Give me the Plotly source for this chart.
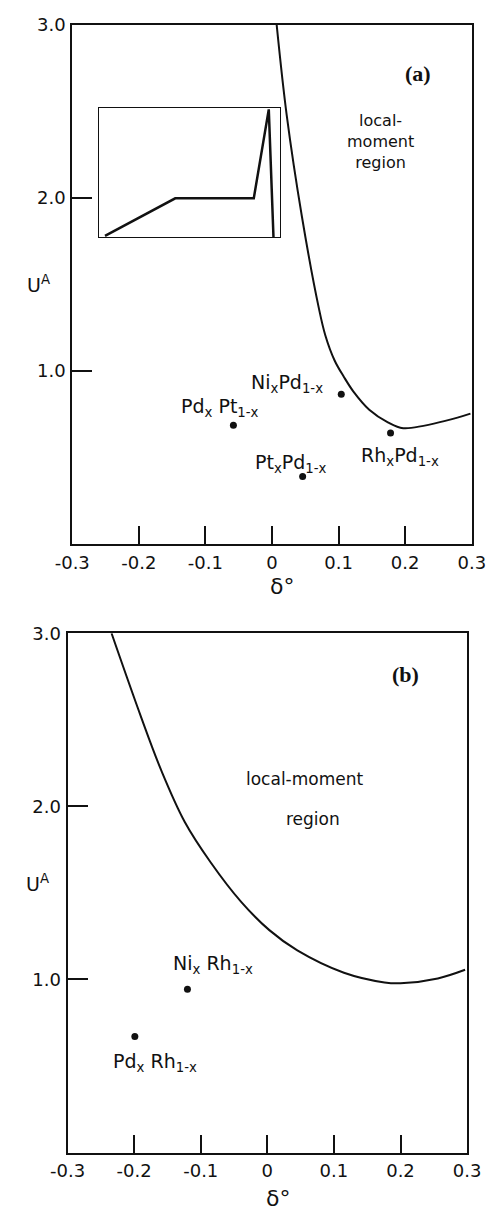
import plotly.graph_objects as go

W, H = 497, 1211

# ---------------- data ----------------
# panel (a): boundary of local-moment region
a_curve_x = [0.007, 0.022, 0.045, 0.070, 0.080, 0.094, 0.108, 0.122, 0.146, 0.174, 0.197, 0.263, 0.298]
a_curve_y = [3.00, 2.48, 1.89, 1.369, 1.207, 1.061, 0.966, 0.883, 0.777, 0.704, 0.670, 0.715, 0.754]
a_pts_name = ["Pd<sub>x</sub> Pt<sub>1-x</sub>", "Ni<sub>x</sub>Pd<sub>1-x</sub>",
              "Pt<sub>x</sub>Pd<sub>1-x</sub>", "Rh<sub>x</sub>Pd<sub>1-x</sub>"]
a_pts_x = [-0.058, 0.104, 0.046, 0.178]
a_pts_y = [0.687, 0.866, 0.39, 0.642]

# inset sketch in panel (a) (normalised units)
inset_x = [0.031, 0.42, 0.855, 0.938, 0.964]
inset_y = [0.008, 0.30, 0.30, 0.99, 0.0]

# panel (b)
b_curve_x = [-0.234, -0.190, -0.159, -0.124, -0.085, -0.039, 0.003, 0.045, 0.115, 0.176, 0.200, 0.256, 0.297]
b_curve_y = [3.00, 2.52, 2.205, 1.91, 1.676, 1.447, 1.285, 1.168, 1.039, 0.983, 0.978, 1.006, 1.056]
b_pts_name = ["Ni<sub>x</sub> Rh<sub>1-x</sub>", "Pd<sub>x</sub> Rh<sub>1-x</sub>"]
b_pts_x = [-0.12, -0.199]
b_pts_y = [0.944, 0.67]

x_ticks = [-0.3, -0.2, -0.1, 0, 0.1, 0.2, 0.3]
x_ticklabels = ["-0.3", "-0.2", "-0.1", "0", "0.1", "0.2", "0.3"]
y_ticks = [1, 2, 3]
y_ticklabels = ["1.0", "2.0", "3.0"]

# ---------------- layout helpers ----------------
def fx(p):
    return p / W

def fy(p):
    return 1 - p / H

FONT = "DejaVu Sans"
INK = "#111111"

fig = go.Figure()

curve_line = dict(color=INK, width=2, shape="spline", smoothing=1.0)
fig.add_trace(go.Scatter(x=a_curve_x, y=a_curve_y, mode="lines", line=curve_line,
                         xaxis="x", yaxis="y", showlegend=False, hoverinfo="skip"))
fig.add_trace(go.Scatter(x=a_pts_x, y=a_pts_y, mode="markers", marker=dict(color=INK, size=7),
                         xaxis="x", yaxis="y", showlegend=False))
fig.add_trace(go.Scatter(x=b_curve_x, y=b_curve_y, mode="lines", line=curve_line,
                         xaxis="x2", yaxis="y2", showlegend=False, hoverinfo="skip"))
fig.add_trace(go.Scatter(x=b_pts_x, y=b_pts_y, mode="markers", marker=dict(color=INK, size=7),
                         xaxis="x2", yaxis="y2", showlegend=False))
fig.add_trace(go.Scatter(x=inset_x, y=inset_y, mode="lines", line=dict(color=INK, width=2.5),
                         xaxis="x3", yaxis="y3", showlegend=False, hoverinfo="skip"))

tickfont = dict(family=FONT, size=18, color=INK)

def xax(domain, anchor):
    return dict(domain=domain, anchor=anchor, range=[-0.3, 0.3], tickvals=x_ticks, ticktext=x_ticklabels,
                ticks="inside", ticklen=18, tickwidth=1.5, tickcolor=INK, showline=True, linecolor=INK,
                linewidth=2, mirror=True, showgrid=False, zeroline=False, tickfont=tickfont, ticklabelstandoff=1)

def yax(domain, anchor):
    return dict(domain=domain, anchor=anchor, range=[0, 3], tickvals=y_ticks, ticktext=y_ticklabels,
                ticks="inside", ticklen=20, tickwidth=1.5, tickcolor=INK, showline=True, linecolor=INK,
                linewidth=2, mirror=True, showgrid=False, zeroline=False, tickfont=tickfont, ticklabelstandoff=1)

layout = dict(
    width=W, height=H, margin=dict(l=0, r=0, t=0, b=0),
    paper_bgcolor="white", plot_bgcolor="white",
    xaxis=xax([fx(58), fx(485)], "y"),
    yaxis=yax([fy(538), fy(14)], "x"),
    xaxis2=xax([fx(53), fx(480)], "y2"),
    yaxis2=yax([fy(1152), fy(628)], "x2"),
    xaxis3=dict(domain=[fx(87), fx(280)], anchor="y3", range=[0, 1], showline=True, linecolor=INK, linewidth=1.3,
                mirror=True, showticklabels=False, ticks="", showgrid=False, zeroline=False),
    yaxis3=dict(domain=[fy(228), fy(98)], anchor="x3", range=[0, 1], showline=True, linecolor=INK, linewidth=1.3,
                mirror=True, showticklabels=False, ticks="", showgrid=False, zeroline=False),
)
fig.update_layout(**layout)

lab_font = dict(family=FONT, size=19, color=INK)
ann = []
# point labels (offsets in pixels relative to the dot)
a_offsets = [(-54, 18), (-92, 11), (-50, 13), (-32, -24)]
for name, x, y, (dx, dy) in zip(a_pts_name, a_pts_x, a_pts_y, a_offsets):
    ann.append(dict(x=x, y=y, xref="x", yref="y", text=name, showarrow=False, xanchor="left", yanchor="middle",
                    xshift=dx, yshift=dy, font=lab_font))
b_offsets = [(-16, 25), (-24, -26)]
for name, x, y, (dx, dy) in zip(b_pts_name, b_pts_x, b_pts_y, b_offsets):
    ann.append(dict(x=x, y=y, xref="x2", yref="y2", text=name, showarrow=False, xanchor="left", yanchor="middle",
                    xshift=dx, yshift=dy, font=lab_font))

def paper_text(text, x, y, size, family=FONT, xanchor="center", bold=False):
    t = f"<b>{text}</b>" if bold else text
    return dict(x=fx(x), y=fy(y), xref="paper", yref="paper", text=t, showarrow=False, xanchor=xanchor,
                yanchor="middle", font=dict(family=family, size=size, color=INK))

ann += [
    paper_text("(a)", 427, 63, 22, family="Liberation Serif", bold=True),
    paper_text("(b)", 414, 670, 22, family="Liberation Serif", bold=True),
    paper_text("local-<br>moment<br>region", 387, 132, 16),
    paper_text("local-moment", 307, 775, 17),
    paper_text("region", 315, 815, 17),
    paper_text("δ°", 282, 581, 22),
    paper_text("δ°", 278, 1198, 22),
    paper_text("U<sup>A</sup>", 8, 275, 19, xanchor="left"),
    paper_text("U<sup>A</sup>", 6, 880, 19, xanchor="left"),
]
fig.update_layout(annotations=ann)

fig.write_html("out.html")
